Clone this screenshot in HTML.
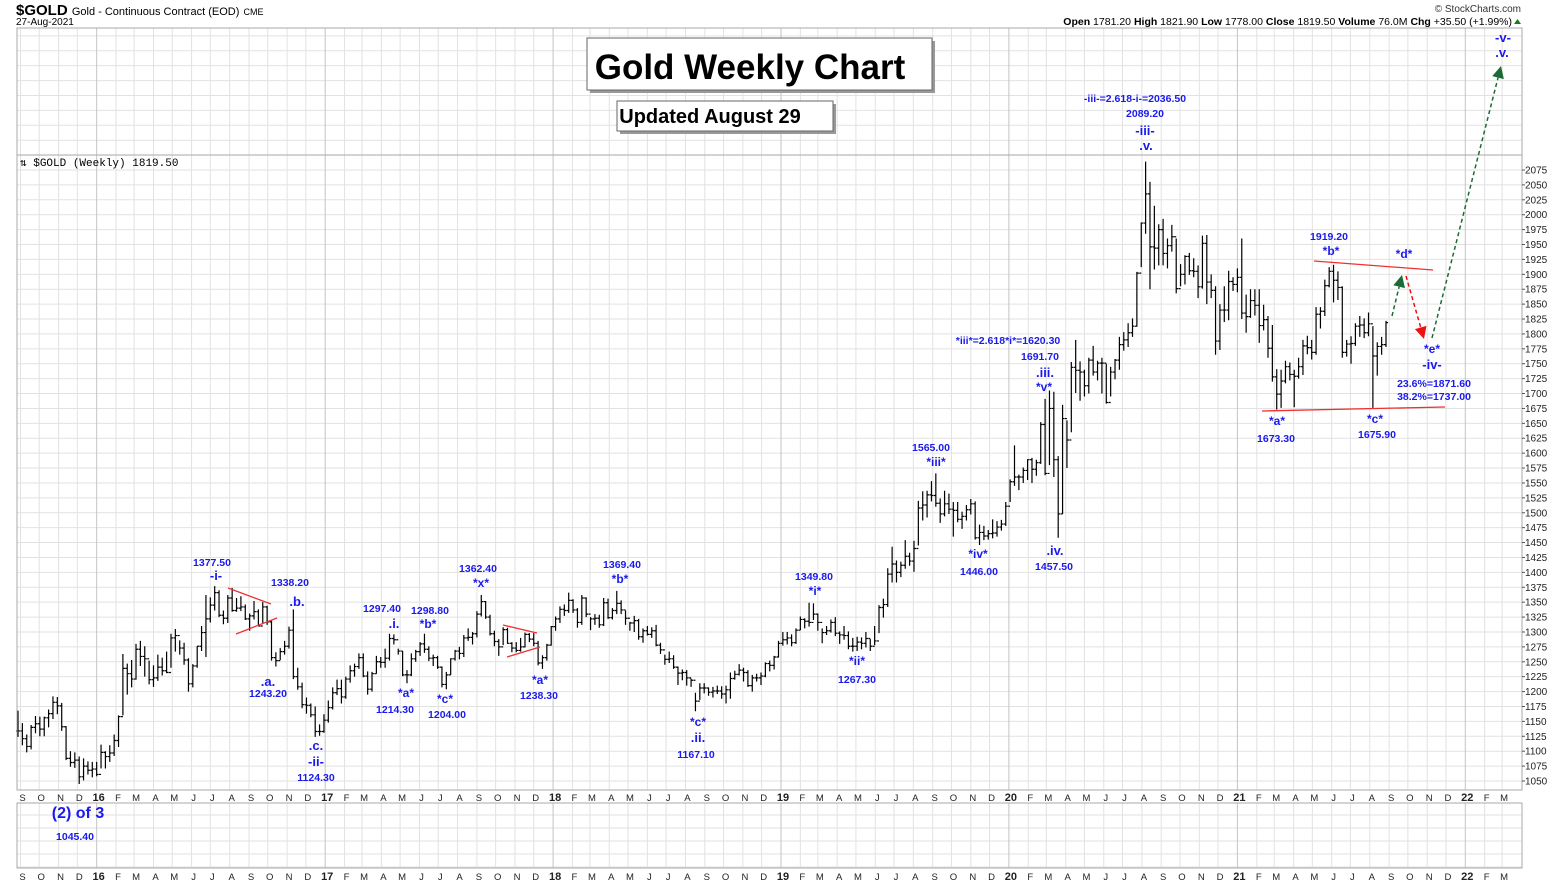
<!DOCTYPE html>
<html><head><meta charset="utf-8">
<style>
html,body{margin:0;padding:0;background:#fff;}
svg{display:block;font-family:"Liberation Sans",sans-serif;}
</style></head>
<body>
<svg id="chart" width="1565" height="885" viewBox="0 0 1565 885" xmlns="http://www.w3.org/2000/svg">
  <rect x="0" y="0" width="1565" height="885" fill="#fff"/>
  <g id="grid"></g>
  <g id="bars"></g>
  <g id="axes"></g>
  <g id="notes"></g>
  <text x="16" y="15" font-size="15" font-weight="bold" font-family="Liberation Sans Narrow, Liberation Sans, sans-serif">$GOLD <tspan font-size="11" font-weight="normal">Gold - Continuous Contract (EOD)</tspan> <tspan font-size="9" font-weight="normal">CME</tspan></text>
  <text x="16" y="25" font-size="10">27-Aug-2021</text>
  <text x="1521" y="12" font-size="10" text-anchor="end" fill="#333">© StockCharts.com</text>
  <text x="1512" y="25" font-size="10.5" text-anchor="end"><tspan font-weight="bold">Open</tspan> 1781.20 <tspan font-weight="bold">High</tspan> 1821.90 <tspan font-weight="bold">Low</tspan> 1778.00 <tspan font-weight="bold">Close</tspan> 1819.50 <tspan font-weight="bold">Volume</tspan> 76.0M <tspan font-weight="bold">Chg</tspan> +35.50 (+1.99%)</text>
  <polygon points="1514,24 1521,24 1517.5,19" fill="#1a7a1a"/>
  <text x="20" y="166" font-size="11" font-family="Liberation Mono, monospace">⇅ $GOLD (Weekly) 1819.50</text>
  <g>
    <rect x="590" y="41" width="345" height="52" fill="#999"/>
    <rect x="587" y="38" width="345" height="52" fill="#fff" stroke="#666"/>
    <text x="750" y="79" font-size="35" font-weight="bold" text-anchor="middle">Gold Weekly Chart</text>
  </g>
  <g>
    <rect x="620" y="104" width="216" height="30" fill="#999"/>
    <rect x="617" y="101" width="216" height="30" fill="#fff" stroke="#666"/>
    <text x="710" y="123" font-size="20" font-weight="bold" text-anchor="middle">Updated August 29</text>
  </g>
</svg>
<script>
// ---- data (weekly, starting week of 28-Aug-2015) ----
const highs = [
1168,1147,1128,1144,1159,1158,1158,1170,1192,1191,1181,1142,1100,1098,1091,1088,1083,1082,
1082,1111,1100,1110,1128,1160,1263,1247,1253,1280,1285,1276,1252,1244,1262,1257,1267,1297,1305,1286,1282,1256,1246,1276,1310,1362,1358,1377,1370,1336,1362,1374,1357,1360,1346,1331,1352,1338,1350,1344,1319,1266,1273,1285,1309,1338,1240,1215,1190,1180,1175,1145,1162,
1185,1207,1220,1220,1225,1244,1247,1264,1264,1234,1233,1260,1258,1272,1297,1296,1272,1268,1236,1264,1270,1283,1297,1276,1262,1260,1242,1233,1256,1270,1275,1295,1306,1300,1335,1362,1352,1329,1302,1288,1308,1307,1283,1283,1290,1299,1298,1298,1285,1261,1280,1310,
1326,1343,1346,1366,1355,1340,1362,1358,1325,1330,1329,1357,1356,1340,1369,1353,1336,1317,1327,1322,1306,1310,1308,1312,1282,1262,1267,1261,1242,1237,1236,1222,1198,1214,1214,1207,1208,1210,1209,1210,1232,1235,1246,1240,1236,1228,1230,1232,1249,1252,1260,1285,
1300,1300,1296,1306,1326,1323,1349,1348,1331,1306,1310,1321,1325,1301,1310,1301,1290,1292,1291,1300,1288,1310,1345,1356,1407,1443,1420,1418,1454,1433,1453,1520,1536,1537,1553,1566,1524,1537,1532,1518,1518,1502,1513,1523,1519,1480,1478,1471,1489,1486,1488,1518,
1556,1613,1564,1576,1590,1592,1589,1652,1691,1705,1703,1595,1681,1655,1753,1790,1754,1740,1760,1780,1755,1760,1750,1745,1758,1795,1803,1818,1826,1904,1987,2089,2055,2015,1984,1993,1960,1983,1960,1917,1932,1936,1927,1915,1965,1966,1900,1880,1850,1880,1906,1895,
1910,1960,1866,1875,1875,1875,1849,1830,1815,1741,1740,1755,1752,1740,1760,1790,1797,1790,1845,1845,1891,1912,1916,1905,1880,1790,1796,1818,1830,1826,1836,1813,1786,1795,1822];
const lows = [
1124,1110,1098,1103,1130,1125,1125,1140,1154,1162,1134,1085,1074,1072,1045,1051,1061,1056,
1058,1071,1071,1082,1092,1107,1160,1195,1207,1220,1243,1225,1212,1208,1218,1227,1231,1240,1267,1262,1245,1200,1207,1240,1268,1258,1316,1336,1325,1313,1315,1334,1334,1335,1320,1302,1321,1310,1315,1312,1252,1242,1253,1262,1272,1221,1203,1172,1163,1157,1124,1126,1131,
1148,1170,1194,1180,1188,1215,1225,1238,1224,1195,1200,1230,1240,1240,1252,1279,1262,1226,1214,1226,1250,1260,1265,1251,1243,1238,1207,1204,1228,1252,1254,1258,1285,1279,1291,1326,1322,1294,1276,1260,1278,1280,1266,1266,1267,1274,1283,1276,1244,1238,1252,1277,
1302,1315,1327,1332,1332,1307,1312,1325,1303,1312,1307,1310,1322,1321,1330,1330,1312,1302,1300,1287,1282,1294,1290,1276,1263,1245,1248,1238,1211,1219,1210,1208,1167,1186,1197,1193,1190,1196,1188,1180,1188,1220,1227,1217,1208,1200,1217,1211,1224,1234,1237,1257,
1277,1279,1276,1280,1303,1306,1309,1320,1302,1281,1295,1299,1293,1280,1287,1271,1267,1268,1271,1274,1268,1278,1298,1324,1342,1383,1383,1392,1406,1411,1401,1445,1487,1492,1519,1510,1483,1494,1498,1460,1484,1473,1487,1497,1455,1446,1454,1455,1457,1460,1470,1478,
1518,1545,1538,1550,1555,1550,1562,1582,1563,1580,1560,1458,1498,1575,1635,1701,1688,1695,1700,1730,1722,1700,1683,1695,1724,1740,1772,1778,1795,1812,1912,1968,1875,1908,1915,1915,1910,1938,1868,1880,1883,1899,1895,1860,1876,1850,1860,1765,1773,1820,1823,1872,
1870,1825,1802,1827,1831,1785,1806,1760,1720,1673,1676,1717,1722,1677,1725,1731,1766,1757,1765,1809,1830,1878,1853,1857,1760,1762,1750,1780,1795,1793,1796,1676,1730,1765,1778];
const closes = [
1134,1121,1108,1140,1146,1137,1156,1163,1182,1176,1141,1088,1081,1085,1057,1075,1068,1070,
1061,1098,1091,1097,1118,1158,1239,1230,1221,1271,1259,1255,1220,1223,1241,1235,1232,1290,1294,1273,1253,1213,1243,1276,1299,1322,1345,1366,1328,1323,1357,1336,1340,1342,1322,1327,1334,1310,1342,1317,1257,1252,1267,1276,1303,1225,1208,1178,1177,1161,1133,1133,1152,
1173,1198,1205,1191,1221,1235,1242,1257,1226,1204,1230,1250,1249,1256,1289,1287,1268,1228,1228,1255,1267,1280,1271,1256,1257,1241,1212,1228,1255,1268,1264,1290,1291,1297,1330,1351,1325,1297,1284,1275,1304,1281,1273,1269,1275,1296,1288,1281,1248,1257,1278,1309,
1322,1338,1336,1353,1337,1316,1357,1330,1322,1323,1312,1349,1324,1336,1348,1337,1323,1315,1319,1292,1302,1296,1302,1278,1270,1254,1255,1241,1231,1232,1223,1219,1184,1206,1206,1199,1201,1201,1196,1203,1222,1229,1236,1232,1210,1223,1223,1226,1247,1244,1258,1281,
1287,1290,1282,1303,1321,1318,1316,1330,1316,1299,1302,1316,1298,1295,1294,1276,1276,1283,1281,1289,1276,1285,1341,1346,1397,1414,1400,1412,1427,1419,1440,1508,1513,1530,1529,1516,1498,1515,1506,1504,1489,1494,1505,1515,1458,1467,1461,1465,1466,1476,1481,1511,
1552,1560,1560,1571,1589,1573,1584,1648,1566,1675,1589,1498,1658,1622,1744,1739,1736,1713,1756,1736,1751,1751,1685,1736,1756,1782,1790,1802,1813,1902,1986,2035,1946,1944,1975,1935,1948,1963,1876,1900,1930,1906,1905,1879,1952,1887,1873,1788,1840,1840,1888,1883,
1895,1835,1829,1856,1848,1814,1824,1776,1728,1699,1721,1745,1732,1729,1745,1780,1777,1769,1833,1838,1881,1905,1890,1878,1769,1783,1784,1813,1815,1802,1817,1763,1779,1782,1819];
const priceTicks = [1050,1075,1100,1125,1150,1175,1200,1225,1250,1275,1300,1325,1350,1375,1400,1425,1450,1475,1500,1525,1550,1575,1600,1625,1650,1675,1700,1725,1750,1775,1800,1825,1850,1875,1900,1925,1950,1975,2000,2025,2050,2075];
const monthLetters = ["J","F","M","A","M","J","J","A","S","O","N","D"];

// ---- scales ----
const NS = "http://www.w3.org/2000/svg";
const X0 = 18, X1 = 1386, L = 17, R = 1522, TOP = 28, BOT = 790;
const step = (X1 - X0) / (closes.length - 1);
function xi(i){ return X0 + i * step; }
function yp(p){ return 170 + (2075 - p) * (611 / 1025); }
const startMs = Date.UTC(2015,7,28);
function xd(y,m,d){ return X0 + ((Date.UTC(y,m,d) - startMs) / 864e5 / 7) * step; }

function mk(tag, attrs, parent){
  const e = document.createElementNS(NS, tag);
  for (const k in attrs) e.setAttribute(k, attrs[k]);
  parent.appendChild(e);
  return e;
}
const grid = document.getElementById('grid');
const bars = document.getElementById('bars');
const axes = document.getElementById('axes');
const notes = document.getElementById('notes');

// panel frames
const mainFrame = mk('rect', {x:L, y:TOP, width:R-L, height:BOT-TOP, fill:'none', stroke:'#aaa'}, axes);


const sep = mk('line', {x1:L, y1:155, x2:R, y2:155, stroke:'#aaa'}, axes);


const lowFrame = mk('rect', {x:L, y:803, width:R-L, height:65, fill:'none', stroke:'#aaa'}, axes);



// horizontal grid
for (let p = 1025; p <= 2300; p += 25){
  const y = yp(p);
  if (y < TOP || y > BOT) continue;
  const g = mk('line', {x1:L, y1:y, x2:R, y2:y, stroke:'#e2e2e2'}, grid);
  
  
}
for (let y = 815; y < 868; y += 13){
  const g = mk('line', {x1:L, y1:y, x2:R, y2:y, stroke:'#e2e2e2'}, grid);
  
  
}
// months
for (let yr = 2015; yr <= 2022; yr++){
  for (let m = 0; m < 12; m++){
    const x = xd(yr, m, 1);
    if (x < L || x > R - 2) continue;
    const isYear = m === 0;
    const c = isYear ? '#c4c4c4' : '#e2e2e2';
    const v = mk('line', {x1:x, y1:TOP, x2:x, y2:BOT, stroke:c}, grid);
    
    
    const v2 = mk('line', {x1:x, y1:803, x2:x, y2:868, stroke:c}, grid);
    
    
    const lab = isYear ? String(yr).slice(2) : monthLetters[m];
    [801, 880].forEach(function(ty){
      const t = mk('text', {x:x+2, y:ty, 'font-size': isYear ? 11 : 9.5, 'font-weight': isYear ? 'bold' : 'normal', 'text-anchor':'middle', fill:'#222'}, axes);
      t.textContent = lab;
      
      
    });
  }
}
// price axis
priceTicks.forEach(function(p){
  const y = yp(p);
  const tk = mk('line', {x1:R, y1:y, x2:R+3, y2:y, stroke:'#555'}, axes);
  
  
  const t = mk('text', {x:R+3, y:y+3.5, 'font-size':10, fill:'#222'}, axes);
  t.textContent = p;
  
  
});

// bars
for (let i = 0; i < closes.length; i++){
  const x = xi(i);
  const open = i > 0 ? closes[i-1] : closes[i];
  const b = mk('path', {d:'M'+x+' '+yp(highs[i])+'V'+yp(lows[i])+'M'+(x-2)+' '+yp(open)+'H'+x+'M'+x+' '+yp(closes[i])+'H'+(x+2), stroke:'#000', 'stroke-width':1.2, fill:'none'}, bars);
  
  
}

// trendlines
const redLines = [[228,588,271,604],[236,634,277,618],[503,625,537,633],[507,657,540,647],[1314,261,1433,270],[1262,411,1445,407]];
redLines.forEach(function(l){
  const e = mk('line', {x1:l[0], y1:l[1], x2:l[2], y2:l[3], stroke:'#f03030', 'stroke-width':1.3}, notes);
  
  
});
function arrow(x1,y1,x2,y2,color){
  const a = Math.atan2(y2-y1, x2-x1);
  const bx = x2 - 12*Math.cos(a), by = y2 - 12*Math.sin(a);
  const ln = mk('line', {x1:x1, y1:y1, x2:bx, y2:by, stroke:color, 'stroke-width':1.5, 'stroke-dasharray':'4,3'}, notes);
  
  
  const px = -Math.sin(a)*6, py = Math.cos(a)*6;
  const h = mk('polygon', {points: x2+','+y2+' '+(bx+px)+','+(by+py)+' '+(bx-px)+','+(by-py), fill:color}, notes);
  
  
}
arrow(1392,316,1402,275,'#1b6b35');
arrow(1406,276,1424,339,'#ee1111');
arrow(1432,338,1501,66,'#1b6b35');

// annotations [x, y, text, size]
const labels = [
[212,566,'1377.50',10.5],[216,580,'-i-',13],[290,586,'1338.20',10.5],[297,606,'.b.',13],
[268,686,'.a.',13],[268,697,'1243.20',10.5],[316,750,'.c.',13],[316,766,'-ii-',13],[316,781,'1124.30',10.5],
[382,612,'1297.40',10.5],[394,628,'.i.',13],[430,614,'1298.80',10.5],[428,628,'*b*',12],
[406,697,'*a*',12],[395,713,'1214.30',10.5],[445,703,'*c*',12],[447,718,'1204.00',10.5],
[478,572,'1362.40',10.5],[481,587,'*x*',12],[540,684,'*a*',12],[539,699,'1238.30',10.5],
[622,568,'1369.40',10.5],[620,583,'*b*',12],[698,726,'*c*',12],[698,742,'.ii.',13],[696,758,'1167.10',10.5],
[814,580,'1349.80',10.5],[815,595,'*i*',12],[857,665,'*ii*',12],[857,683,'1267.30',10.5],
[931,451,'1565.00',10.5],[936,466,'*iii*',12],[978,558,'*iv*',12],[979,575,'1446.00',10.5],
[1055,555,'.iv.',13],[1054,570,'1457.50',10.5],
[1008,344,'*iii*=2.618*i*=1620.30',10.5],[1040,360,'1691.70',10.5],[1045,377,'.iii.',13],[1044,391,'*v*',12],
[1135,102,'-iii-=2.618-i-=2036.50',10.5],[1145,117,'2089.20',10.5],[1145,135,'-iii-',13],[1146,150,'.v.',13],
[1329,240,'1919.20',10.5],[1331,255,'*b*',12],[1404,258,'*d*',12],
[1432,353,'*e*',12],[1432,369,'-iv-',13],[1434,387,'23.6%=1871.60',10.5],[1434,400,'38.2%=1737.00',10.5],
[1277,425,'*a*',12],[1276,442,'1673.30',10.5],[1375,423,'*c*',12],[1377,438,'1675.90',10.5],
[1503,42,'-v-',13],[1502,57,'.v.',13],
[78,818,'(2) of 3',16],[75,840,'1045.40',10.5]
];
labels.forEach(function(l){
  const t = mk('text', {x:l[0], y:l[1], 'font-size':l[3], 'font-weight':'bold', 'text-anchor':'middle', fill:'#1a1aee'}, notes);
  t.textContent = l[2];
  
  
});
</script>
</body></html>
